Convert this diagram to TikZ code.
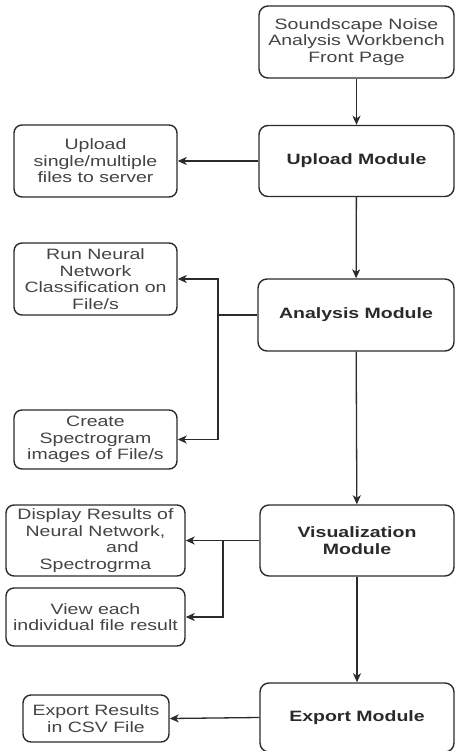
\documentclass[tikz,border=0pt]{standalone}
\usepackage{fontspec}
\setmainfont[FakeStretch=1.3]{Liberation Sans}
\usetikzlibrary{arrows.meta}
\definecolor{edge}{HTML}{2B2B2B}
\definecolor{txt}{HTML}{444444}
\definecolor{boldtxt}{HTML}{2A2A2A}
\begin{document}
\begin{tikzpicture}[x=1pt,y=-1pt,
  box/.style={draw=edge, line width=1.4pt, rounded corners=9pt, align=center,
    inner sep=0pt, font=\fontsize{15}{16.5}\selectfont, text=txt, fill=white},
  module/.style={box, font=\fontsize{15}{16.5}\selectfont\bfseries, text=boldtxt,
    minimum width=195pt, minimum height=71pt},
  task/.style={box, rounded corners=8pt},
  link/.style={draw=edge, line width=1.3pt, -{Stealth[length=9pt,width=8pt,inset=2.5pt]}},
  wire/.style={draw=edge, line width=1.3pt}]
\useasboundingbox (0,0) rectangle (455,751);

% main modules (right column)
\node[module, font=\fontsize{15}{16.5}\selectfont, text=txt, minimum height=72pt] (front) at (356.5,42)
  {Soundscape Noise\\Analysis Workbench\\Front Page};
\node[module] (upload) at (356.5,161) {Upload Module};
\node[module, minimum width=196pt, minimum height=72pt] (analysis) at (356,315) {Analysis Module};
\node[module, minimum width=194pt] (viz) at (357,540.5) {Visualization\\Module};
\node[module, minimum width=194pt, minimum height=69pt] (export) at (357,717.5) {Export Module};

% sub-tasks (left column)
\node[task, minimum width=163pt, minimum height=72pt] (upl) at (95.5,161)
  {Upload\\single/multiple\\files to server};
\node[task, minimum width=163pt, minimum height=72pt] (run) at (95.5,279)
  {Run Neural\\Network\\Classification on\\File/s};
\node[task, minimum width=163pt, minimum height=59pt] (create) at (95.5,439.5)
  {Create\\Spectrogram\\images of File/s};
\node[task, minimum width=179pt, minimum height=71pt] (display) at (95.5,540.5)
  {Display Results of\\Neural Network,\\\hspace*{54pt}and\\Spectrogrma};
\node[task, minimum width=179pt, minimum height=58pt] (view) at (95.5,617)
  {View each\\individual file result};
\node[task, minimum width=146pt, minimum height=47pt] (csv) at (96,718.5)
  {Export Results\\in CSV File};

% branch points
\coordinate (ab) at (218,315);
\coordinate (vb) at (223,540.5);

% main flow
\draw[link] (front) -- (upload);
\draw[link] (upload) -- (analysis);
\draw[link] (analysis) -- (viz);
\draw[link] (viz) -- (export);

% side outputs
\draw[link] (upload.west) -- (upl.east);
\draw[wire] (analysis.west) -- (ab);
\draw[link] (ab) |- (run.east);
\draw[link] (ab) |- (create.east);
\draw[link] (viz.west) -- (display.east);
\draw[link] (vb) |- (view.east);
\draw[link] (export.west) -- (csv.east);
\end{tikzpicture}
\end{document}
